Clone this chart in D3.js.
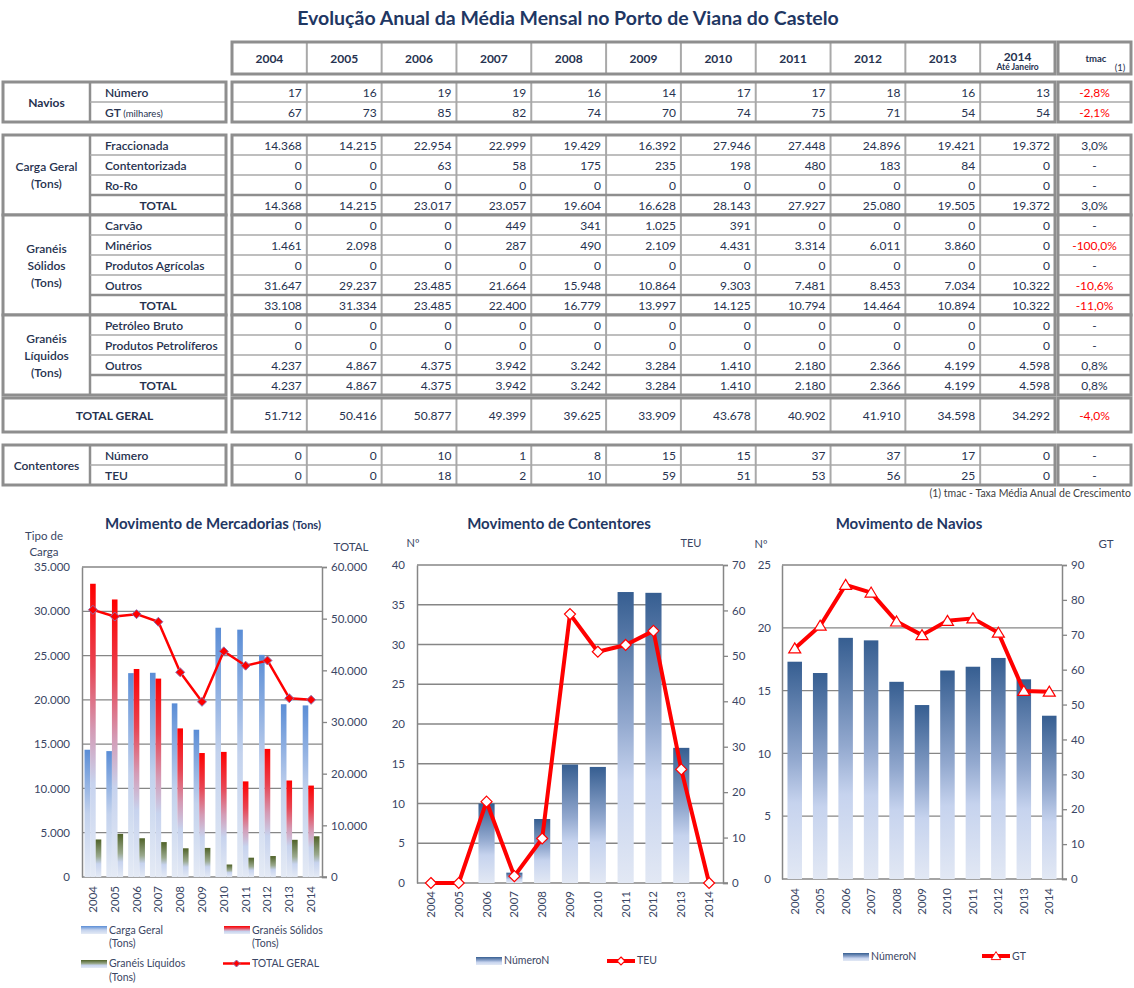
<!DOCTYPE html>
<html><head><meta charset="utf-8">
<script src="https://cdn.jsdelivr.net/npm/d3@7"></script>
<style>body{margin:0;background:#fff}svg{display:block;font-family:Lato,'Open Sans',sans-serif}</style>
</head><body><svg id="c" width="1134" height="988"></svg>
<script>
// ---------- DATA ----------
const years = ["2004","2005","2006","2007","2008","2009","2010","2011","2012","2013","2014"];
const navios_numero = [17,16,19,19,16,14,17,17,18,16,13];
const navios_gt = [67,73,85,82,74,70,74,75,71,54,54];
const cg_fraccionada = [14368,14215,22954,22999,19429,16392,27946,27448,24896,19421,19372];
const cg_contentorizada = [0,0,63,58,175,235,198,480,183,84,0];
const cg_roro = [0,0,0,0,0,0,0,0,0,0,0];
const cg_total = [14368,14215,23017,23057,19604,16628,28143,27927,25080,19505,19372];
const gs_carvao = [0,0,0,449,341,1025,391,0,0,0,0];
const gs_minerios = [1461,2098,0,287,490,2109,4431,3314,6011,3860,0];
const gs_agricolas = [0,0,0,0,0,0,0,0,0,0,0];
const gs_outros = [31647,29237,23485,21664,15948,10864,9303,7481,8453,7034,10322];
const gs_total = [33108,31334,23485,22400,16779,13997,14125,10794,14464,10894,10322];
const gl_bruto = [0,0,0,0,0,0,0,0,0,0,0];
const gl_petroliferos = [0,0,0,0,0,0,0,0,0,0,0];
const gl_outros = [4237,4867,4375,3942,3242,3284,1410,2180,2366,4199,4598];
const gl_total = [4237,4867,4375,3942,3242,3284,1410,2180,2366,4199,4598];
const total_geral = [51712,50416,50877,49399,39625,33909,43678,40902,41910,34598,34292];
const cont_numero = [0,0,10,1,8,15,15,37,37,17,0];
const cont_teu = [0,0,18,2,10,59,51,53,56,25,0];
const tmac_navios = ["-2,8%","-2,1%"];
const tmac_cg = ["3,0%","-","-","3,0%"];
const tmac_gs = ["-","-100,0%","-","-10,6%","-11,0%"];
const tmac_gl = ["-","-","0,8%","0,8%"];
const tmac_total = ["-4,0%"];
const tmac_cont = ["-","-"];
// chart values
const chart_cont_numero = [0,0,10,1.3,8.05,14.9,14.6,36.6,36.5,17,0];
const chart_cont_teu = [0,0,17.9,1.5,9.8,59.2,50.9,52.4,55.5,25,0];
const chart_nav_numero = [17.3,16.4,19.2,19.0,15.7,13.85,16.6,16.9,17.6,15.9,13.0];
const chart_nav_gt = [66.1,72.6,84.3,82.1,73.8,69.9,74.0,74.7,70.6,53.9,53.7];
const ticks_merc_left = [0,5000,10000,15000,20000,25000,30000,35000];
const ticks_merc_right = [0,10000,20000,30000,40000,50000,60000];
const ticks_cont_left = [0,5,10,15,20,25,30,35,40];
const ticks_cont_right = [0,10,20,30,40,50,60,70];
const ticks_nav_left = [0,5,10,15,20,25];
const ticks_nav_right = [0,10,20,30,40,50,60,70,80,90];

// ---------- SETUP ----------
const svg = d3.select("#c");
svg.append("rect").attr("width",1134).attr("height",988).attr("fill","#fff");
const fmt = d3.formatLocale({decimal:",",thousands:".",grouping:[3],currency:["",""]}).format(",d");
const lineC="#8e8e8e", thinC="#a9a9a9", txtC="#26324f", navy="#1f3763", axC="#3a4664";
const defs = svg.append("defs");
function grad(id, stops){const g=defs.append("linearGradient").attr("id",id).attr("x1",0).attr("y1",0).attr("x2",0).attr("y2",1);
  stops.forEach(([o,c])=>g.append("stop").attr("offset",o).attr("stop-color",c));}
grad("gBlue",[[0,"#5A8DD6"],[0.5,"#C3D2ED"],[1,"#E4EAF5"]]);
grad("gRed",[[0,"#FF0000"],[0.28,"#E84452"],[0.5,"#D49BB5"],[0.68,"#C7D3EE"],[1,"#E4EAF5"]]);
grad("gGreen",[[0,"#4F6228"],[0.45,"#9AA98E"],[0.65,"#C7D3EE"],[1,"#E4EAF5"]]);
grad("gNavy",[[0,"#365E91"],[0.45,"#93A9CF"],[0.65,"#C6D3EE"],[1,"#E2E8F4"]]);

// title
svg.append("text").attr("x",568).attr("y",25).attr("text-anchor","middle").attr("font-size",19.5).attr("font-weight",700)
  .attr("fill",navy).text("Evolução Anual da Média Mensal no Porto de Viana do Castelo");

// ---------- TABLE ----------
const xT = d3.scaleBand().domain(years).range([232,1055]);
const bw = xT.bandwidth();
const tbl = svg.append("g");
const LX0=3, LX1=226, CATX=90, DX0=232, DX1=1055, TX0=1058, TX1=1131;
function box(x0,y0,x1,y1,vLines,hLines){
  const g=tbl.append("g");
  g.append("rect").attr("x",x0).attr("y",y0).attr("width",x1-x0).attr("height",y1-y0).attr("fill","#fff");
  vLines.forEach(v=>g.append("line").attr("x1",v.x).attr("x2",v.x).attr("y1",y0).attr("y2",y1).attr("stroke",v.c||thinC).attr("stroke-width",v.w||2));
  hLines.forEach(h=>g.append("line").attr("x1",h.x0!==undefined?h.x0:x0).attr("x2",x1).attr("y1",h.y).attr("y2",h.y).attr("stroke",h.c||thinC).attr("stroke-width",h.w||1.5));
  g.append("rect").attr("x",x0).attr("y",y0).attr("width",x1-x0).attr("height",y1-y0).attr("fill","none").attr("stroke",lineC).attr("stroke-width",3);
}
const colLines = years.slice(1).map(y=>({x:xT(y)}));
// header
box(DX0,42,DX1,74,colLines,[]);
box(TX0,42,TX1,74,[],[]);
years.forEach(y=>{
  if(y==="2014"){
    tbl.append("text").attr("x",xT(y)+bw/2).attr("y",61).attr("text-anchor","middle").attr("font-size",12).attr("font-weight",700).attr("fill",txtC).text(y);
    tbl.append("text").attr("x",xT(y)+bw/2).attr("y",70).attr("text-anchor","middle").attr("font-size",8.5).attr("font-weight",700).attr("fill",txtC).text("Até Janeiro");
  } else {
    tbl.append("text").attr("x",xT(y)+bw/2).attr("y",63).attr("text-anchor","middle").attr("font-size",12).attr("font-weight",700).attr("fill",txtC).text(y);
  }
});
tbl.append("text").attr("x",1096).attr("y",62).attr("text-anchor","middle").attr("font-size",9.5).attr("font-weight",700).attr("fill",txtC).text("tmac");
tbl.append("text").attr("x",1120).attr("y",71).attr("text-anchor","middle").attr("font-size",9.5).attr("fill",txtC).text("(1)");

const blocks = [
 {cat:["Navios"], cw:700, y0:82, rh:20, rows:[
   {label:"Número", vals:navios_numero, tmac:tmac_navios[0]},
   {label:"GT", small:"(milhares)", vals:navios_gt, tmac:tmac_navios[1]}]},
 {cat:["Carga Geral","(Tons)"], cw:600, y0:135, rh:20, rows:[
   {label:"Fraccionada", vals:cg_fraccionada, tmac:tmac_cg[0]},
   {label:"Contentorizada", vals:cg_contentorizada, tmac:tmac_cg[1]},
   {label:"Ro-Ro", vals:cg_roro, tmac:tmac_cg[2]},
   {label:"TOTAL", total:true, vals:cg_total, tmac:tmac_cg[3]}]},
 {cat:["Granéis","Sólidos","(Tons)"], cw:600, y0:215, rh:20, rows:[
   {label:"Carvão", vals:gs_carvao, tmac:tmac_gs[0]},
   {label:"Minérios", vals:gs_minerios, tmac:tmac_gs[1]},
   {label:"Produtos Agrícolas", vals:gs_agricolas, tmac:tmac_gs[2]},
   {label:"Outros", vals:gs_outros, tmac:tmac_gs[3]},
   {label:"TOTAL", total:true, vals:gs_total, tmac:tmac_gs[4]}]},
 {cat:["Granéis","Líquidos","(Tons)"], cw:600, y0:315, rh:20, rows:[
   {label:"Petróleo Bruto", vals:gl_bruto, tmac:tmac_gl[0]},
   {label:"Produtos Petrolíferos", vals:gl_petroliferos, tmac:tmac_gl[1]},
   {label:"Outros", vals:gl_outros, tmac:tmac_gl[2]},
   {label:"TOTAL", total:true, vals:gl_total, tmac:tmac_gl[3]}]},
 {span:"TOTAL GERAL", y0:398, rh:34, rows:[{vals:total_geral, tmac:tmac_total[0]}]},
 {cat:["Contentores"], cw:600, y0:445, rh:20, rows:[
   {label:"Número", vals:cont_numero, tmac:tmac_cont[0]},
   {label:"TEU", vals:cont_teu, tmac:tmac_cont[1]}]}
];
blocks.forEach(b=>{
  const n=b.rows.length, y1=b.y0+n*b.rh;
  const hl=[]; for(let i=1;i<n;i++){const th=b.rows[i].total; hl.push({y:b.y0+i*b.rh, w:th?2.5:1.5, c:th?lineC:thinC});}
  if(b.span){
    box(LX0,b.y0,LX1,y1,[],[]);
    tbl.append("text").attr("x",(LX0+LX1)/2).attr("y",b.y0+b.rh/2+4.5).attr("text-anchor","middle").attr("font-size",12).attr("font-weight",700).attr("fill",txtC).text(b.span);
  } else {
    box(LX0,b.y0,LX1,y1,[{x:CATX,w:2.5,c:lineC}],hl.map(h=>Object.assign({x0:CATX},h)));
    const cy=(b.y0+y1)/2, lh=17;
    b.cat.forEach((t,i)=>tbl.append("text").attr("x",(LX0+CATX)/2).attr("y",cy+(i-(b.cat.length-1)/2)*lh+4.5)
      .attr("text-anchor","middle").attr("font-size",12).attr("font-weight",b.cw).attr("fill",txtC).text(t));
    b.rows.forEach((r,i)=>{
      const yy=b.y0+i*b.rh+b.rh/2+4.5;
      if(r.total){
        tbl.append("text").attr("x",(CATX+LX1)/2).attr("y",yy).attr("text-anchor","middle").attr("font-size",12).attr("font-weight",700).attr("fill",txtC).text(r.label);
      } else {
        const t=tbl.append("text").attr("x",105).attr("y",yy).attr("font-size",12).attr("font-weight",600).attr("fill",txtC).text(r.label);
        if(r.small) t.append("tspan").attr("font-size",9.5).attr("font-weight",400).text(" "+r.small);
      }
    });
  }
  box(DX0,b.y0,DX1,y1,colLines,hl);
  box(TX0,b.y0,TX1,y1,[],hl);
  b.rows.forEach((r,i)=>{
    const yy=b.y0+i*b.rh+b.rh/2+4.5;
    r.vals.forEach((v,j)=>tbl.append("text").attr("x",xT(years[j])+bw-5).attr("y",yy).attr("text-anchor","end").attr("font-size",12).attr("fill",txtC).text(fmt(v)));
    const neg=r.tmac.length>1&&r.tmac[0]==="-";
    tbl.append("text").attr("x",(TX0+TX1)/2).attr("y",yy).attr("text-anchor","middle").attr("font-size",12).attr("fill",neg?"#ff0000":txtC).text(r.tmac);
  });
});
svg.append("text").attr("x",1131).attr("y",497).attr("text-anchor","end").attr("font-size",10.5).attr("fill","#404040").text("(1) tmac - Taxa Média Anual de Crescimento");

// ---------- CHART HELPERS ----------
function frame(g, x0,x1,yTop,yBot, yL,yR, tl,tr, lFmt,rFmt, leftPad){
  tl.filter(v=>v>0).forEach(v=>g.append("line").attr("x1",x0).attr("x2",x1).attr("y1",yL(v)).attr("y2",yL(v)).attr("stroke","#868686").attr("stroke-width",1.3));
  const aL=g.append("g").attr("transform",`translate(${x0},0)`).call(d3.axisLeft(yL).tickValues(tl).tickSize(0).tickPadding(leftPad).tickFormat(lFmt));
  const aR=g.append("g").attr("transform",`translate(${x1},0)`).call(d3.axisRight(yR).tickValues(tr).tickSize(5).tickPadding(4).tickFormat(rFmt));
  [aL,aR].forEach(a=>{a.select(".domain").attr("stroke","#868686").attr("stroke-width",1.5);
    a.selectAll(".tick line").attr("stroke","#868686").attr("stroke-width",1.3);
    a.selectAll("text").attr("font-size",11.5).attr("fill",axC).attr("font-family","Lato,'Open Sans',sans-serif");});
  g.append("line").attr("x1",x0).attr("x2",x1+5).attr("y1",yBot).attr("y2",yBot).attr("stroke","#868686").attr("stroke-width",1.5);
}
function yearLabels(g,xs,y){
  years.forEach(yr=>g.append("text").attr("transform",`translate(${xs(yr)+xs.bandwidth()/2+4},${y}) rotate(-90)`)
    .attr("text-anchor","end").attr("font-size",11.5).attr("fill",axC).text(yr));
}
const diamond=r=>`M0,${-r}L${r},0L0,${r}L${-r},0Z`;
const triangle="M0,-5.5L6,4.5L-6,4.5Z";

// ---------- CHART 1: Mercadorias ----------
{
const g=svg.append("g");
const x0=82,x1=322,yTop=567,yBot=877;
const xs=d3.scaleBand().domain(years).range([x0,x1]);
const yL=d3.scaleLinear().domain([0,35000]).range([yBot,yTop]);
const yR=d3.scaleLinear().domain([0,60000]).range([yBot,yTop]);
const t=g.append("text").attr("x",213).attr("y",529).attr("text-anchor","middle").attr("fill",navy).attr("font-weight",700).attr("font-size",15).text("Movimento  de Mercadorias ");
t.append("tspan").attr("font-size",11).text("(Tons)");
g.append("text").attr("x",44).attr("y",540).attr("text-anchor","middle").attr("font-size",11.5).attr("fill",axC).text("Tipo de");
g.append("text").attr("x",44).attr("y",556).attr("text-anchor","middle").attr("font-size",11.5).attr("fill",axC).text("Carga");
g.append("text").attr("x",351).attr("y",551).attr("text-anchor","middle").attr("font-size",11.5).attr("fill",axC).text("TOTAL");
frame(g,x0,x1,yTop,yBot,yL,yR,ticks_merc_left,ticks_merc_right,fmt,fmt,12);
const series=[{k:"cg",v:cg_total,f:"url(#gBlue)"},{k:"gs",v:gs_total,f:"url(#gRed)"},{k:"gl",v:gl_total,f:"url(#gGreen)"}];
const xi=d3.scaleBand().domain(series.map(s=>s.k)).range([0,xs.bandwidth()]).paddingOuter(0.45);
series.forEach(s=>{
  g.selectAll(null).data(years).enter().append("rect").attr("x",(d)=>xs(d)+xi(s.k)).attr("width",xi.bandwidth())
   .attr("y",(d,i)=>yL(s.v[i])).attr("height",(d,i)=>yBot-yL(s.v[i])).attr("fill",s.f);
});
const line=d3.line().x((d,i)=>xs(years[i])+xs.bandwidth()/2).y(d=>yR(d));
g.append("path").attr("d",line(total_geral)).attr("fill","none").attr("stroke","#ff0000").attr("stroke-width",2.5).attr("stroke-linejoin","round");
g.selectAll(null).data(total_geral).enter().append("path").attr("d",diamond(4.5))
  .attr("transform",(d,i)=>`translate(${xs(years[i])+xs.bandwidth()/2},${yR(d)})`).attr("fill","#ff0000").attr("stroke","#8a6fb0").attr("stroke-width",1);
yearLabels(g,xs,886);
// legend
const lg=g.append("g").attr("font-size",10.5).attr("fill",axC);
lg.append("rect").attr("x",81).attr("y",926).attr("width",26).attr("height",8).attr("fill","url(#gBlue)");
lg.append("text").attr("x",109).attr("y",934).text("Carga Geral");
lg.append("text").attr("x",109).attr("y",947).text("(Tons)");
lg.append("rect").attr("x",224).attr("y",926).attr("width",26).attr("height",8).attr("fill","url(#gRed)");
lg.append("text").attr("x",252).attr("y",934).text("Granéis Sólidos");
lg.append("text").attr("x",252).attr("y",947).text("(Tons)");
lg.append("rect").attr("x",81).attr("y",960).attr("width",26).attr("height",8).attr("fill","url(#gGreen)");
lg.append("text").attr("x",109).attr("y",967).text("Granéis Líquidos");
lg.append("text").attr("x",109).attr("y",981).text("(Tons)");
lg.append("line").attr("x1",223).attr("x2",250).attr("y1",963.5).attr("y2",963.5).attr("stroke","#ff0000").attr("stroke-width",2.5);
lg.append("path").attr("d",diamond(3.5)).attr("transform","translate(236.5,963.5)").attr("fill","#ff0000").attr("stroke","#8a6fb0");
lg.append("text").attr("x",252).attr("y",967).text("TOTAL GERAL");
}

// ---------- CHART 2: Contentores ----------
{
const g=svg.append("g");
const x0=417,x1=723,yTop=565,yBot=883;
const xs=d3.scaleBand().domain(years).range([x0,x1]).paddingInner(0.42).paddingOuter(0.21);
const yL=d3.scaleLinear().domain([0,40]).range([yBot,yTop]);
const yR=d3.scaleLinear().domain([0,70]).range([yBot,yTop]);
g.append("text").attr("x",559).attr("y",529).attr("text-anchor","middle").attr("fill",navy).attr("font-weight",700).attr("font-size",15).text("Movimento de Contentores");
g.append("text").attr("x",413).attr("y",547).attr("text-anchor","middle").attr("font-size",11).attr("fill",axC).text("Nº");
g.append("text").attr("x",691).attr("y",547).attr("text-anchor","middle").attr("font-size",11).attr("fill",axC).text("TEU");
frame(g,x0,x1,yTop,yBot,yL,yR,ticks_cont_left,ticks_cont_right,d3.format("d"),d3.format("d"),12);
g.selectAll(null).data(chart_cont_numero).enter().append("rect").attr("x",(d,i)=>xs(years[i])).attr("width",xs.bandwidth())
  .attr("y",d=>yL(d)).attr("height",d=>yBot-yL(d)).attr("fill","url(#gNavy)");
const cx=(i)=>xs(years[i])+xs.bandwidth()/2;
g.append("path").attr("d",d3.line().x((d,i)=>cx(i)).y(d=>yR(d))(chart_cont_teu)).attr("fill","none").attr("stroke","#ff0000").attr("stroke-width",4).attr("stroke-linejoin","round");
g.selectAll(null).data(chart_cont_teu).enter().append("path").attr("d",diamond(5.5))
  .attr("transform",(d,i)=>`translate(${cx(i)},${yR(d)})`).attr("fill","#fff").attr("stroke","#ff0000").attr("stroke-width",1.2);
yearLabels(g,xs,891);
const lg=g.append("g").attr("font-size",10.5).attr("fill",axC);
lg.append("rect").attr("x",476).attr("y",957).attr("width",26).attr("height",8).attr("fill","url(#gNavy)");
lg.append("text").attr("x",504).attr("y",964).text("NúmeroN");
lg.append("line").attr("x1",607).attr("x2",635).attr("y1",961).attr("y2",961).attr("stroke","#ff0000").attr("stroke-width",4);
lg.append("path").attr("d",diamond(4)).attr("transform","translate(621,961)").attr("fill","#fff").attr("stroke","#ff0000").attr("stroke-width",1.2);
lg.append("text").attr("x",637).attr("y",964).text("TEU");
}

// ---------- CHART 3: Navios ----------
{
const g=svg.append("g");
const x0=782,x1=1062,yTop=565,yBot=879;
const xs=d3.scaleBand().domain(years).range([x0,x1]).paddingInner(0.43).paddingOuter(0.215);
const yL=d3.scaleLinear().domain([0,25]).range([yBot,yTop]);
const yR=d3.scaleLinear().domain([0,90]).range([yBot,yTop]);
g.append("text").attr("x",909).attr("y",529).attr("text-anchor","middle").attr("fill",navy).attr("font-weight",700).attr("font-size",15).text("Movimento de Navios");
g.append("text").attr("x",761).attr("y",548).attr("text-anchor","middle").attr("font-size",11).attr("fill",axC).text("Nº");
g.append("text").attr("x",1106).attr("y",548).attr("text-anchor","middle").attr("font-size",11.5).attr("fill",axC).text("GT");
frame(g,x0,x1,yTop,yBot,yL,yR,ticks_nav_left,ticks_nav_right,d3.format("d"),d3.format("d"),11);
g.selectAll(null).data(chart_nav_numero).enter().append("rect").attr("x",(d,i)=>xs(years[i])).attr("width",xs.bandwidth())
  .attr("y",d=>yL(d)).attr("height",d=>yBot-yL(d)).attr("fill","url(#gNavy)");
const cx=(i)=>xs(years[i])+xs.bandwidth()/2;
g.append("path").attr("d",d3.line().x((d,i)=>cx(i)).y(d=>yR(d))(chart_nav_gt)).attr("fill","none").attr("stroke","#ff0000").attr("stroke-width",4).attr("stroke-linejoin","round");
g.selectAll(null).data(chart_nav_gt).enter().append("path").attr("d",triangle)
  .attr("transform",(d,i)=>`translate(${cx(i)},${yR(d)})`).attr("fill","#fff").attr("stroke","#ff0000").attr("stroke-width",1.2);
yearLabels(g,xs,888);
const lg=g.append("g").attr("font-size",10.5).attr("fill",axC);
lg.append("rect").attr("x",843).attr("y",953).attr("width",26).attr("height",8).attr("fill","url(#gNavy)");
lg.append("text").attr("x",871).attr("y",960).text("NúmeroN");
lg.append("line").attr("x1",982).attr("x2",1010).attr("y1",956).attr("y2",956).attr("stroke","#ff0000").attr("stroke-width",4);
lg.append("path").attr("d",triangle).attr("transform","translate(996,956) scale(0.8)").attr("fill","#fff").attr("stroke","#ff0000").attr("stroke-width",1.2);
lg.append("text").attr("x",1012).attr("y",960).text("GT");
}
</script></body></html>
